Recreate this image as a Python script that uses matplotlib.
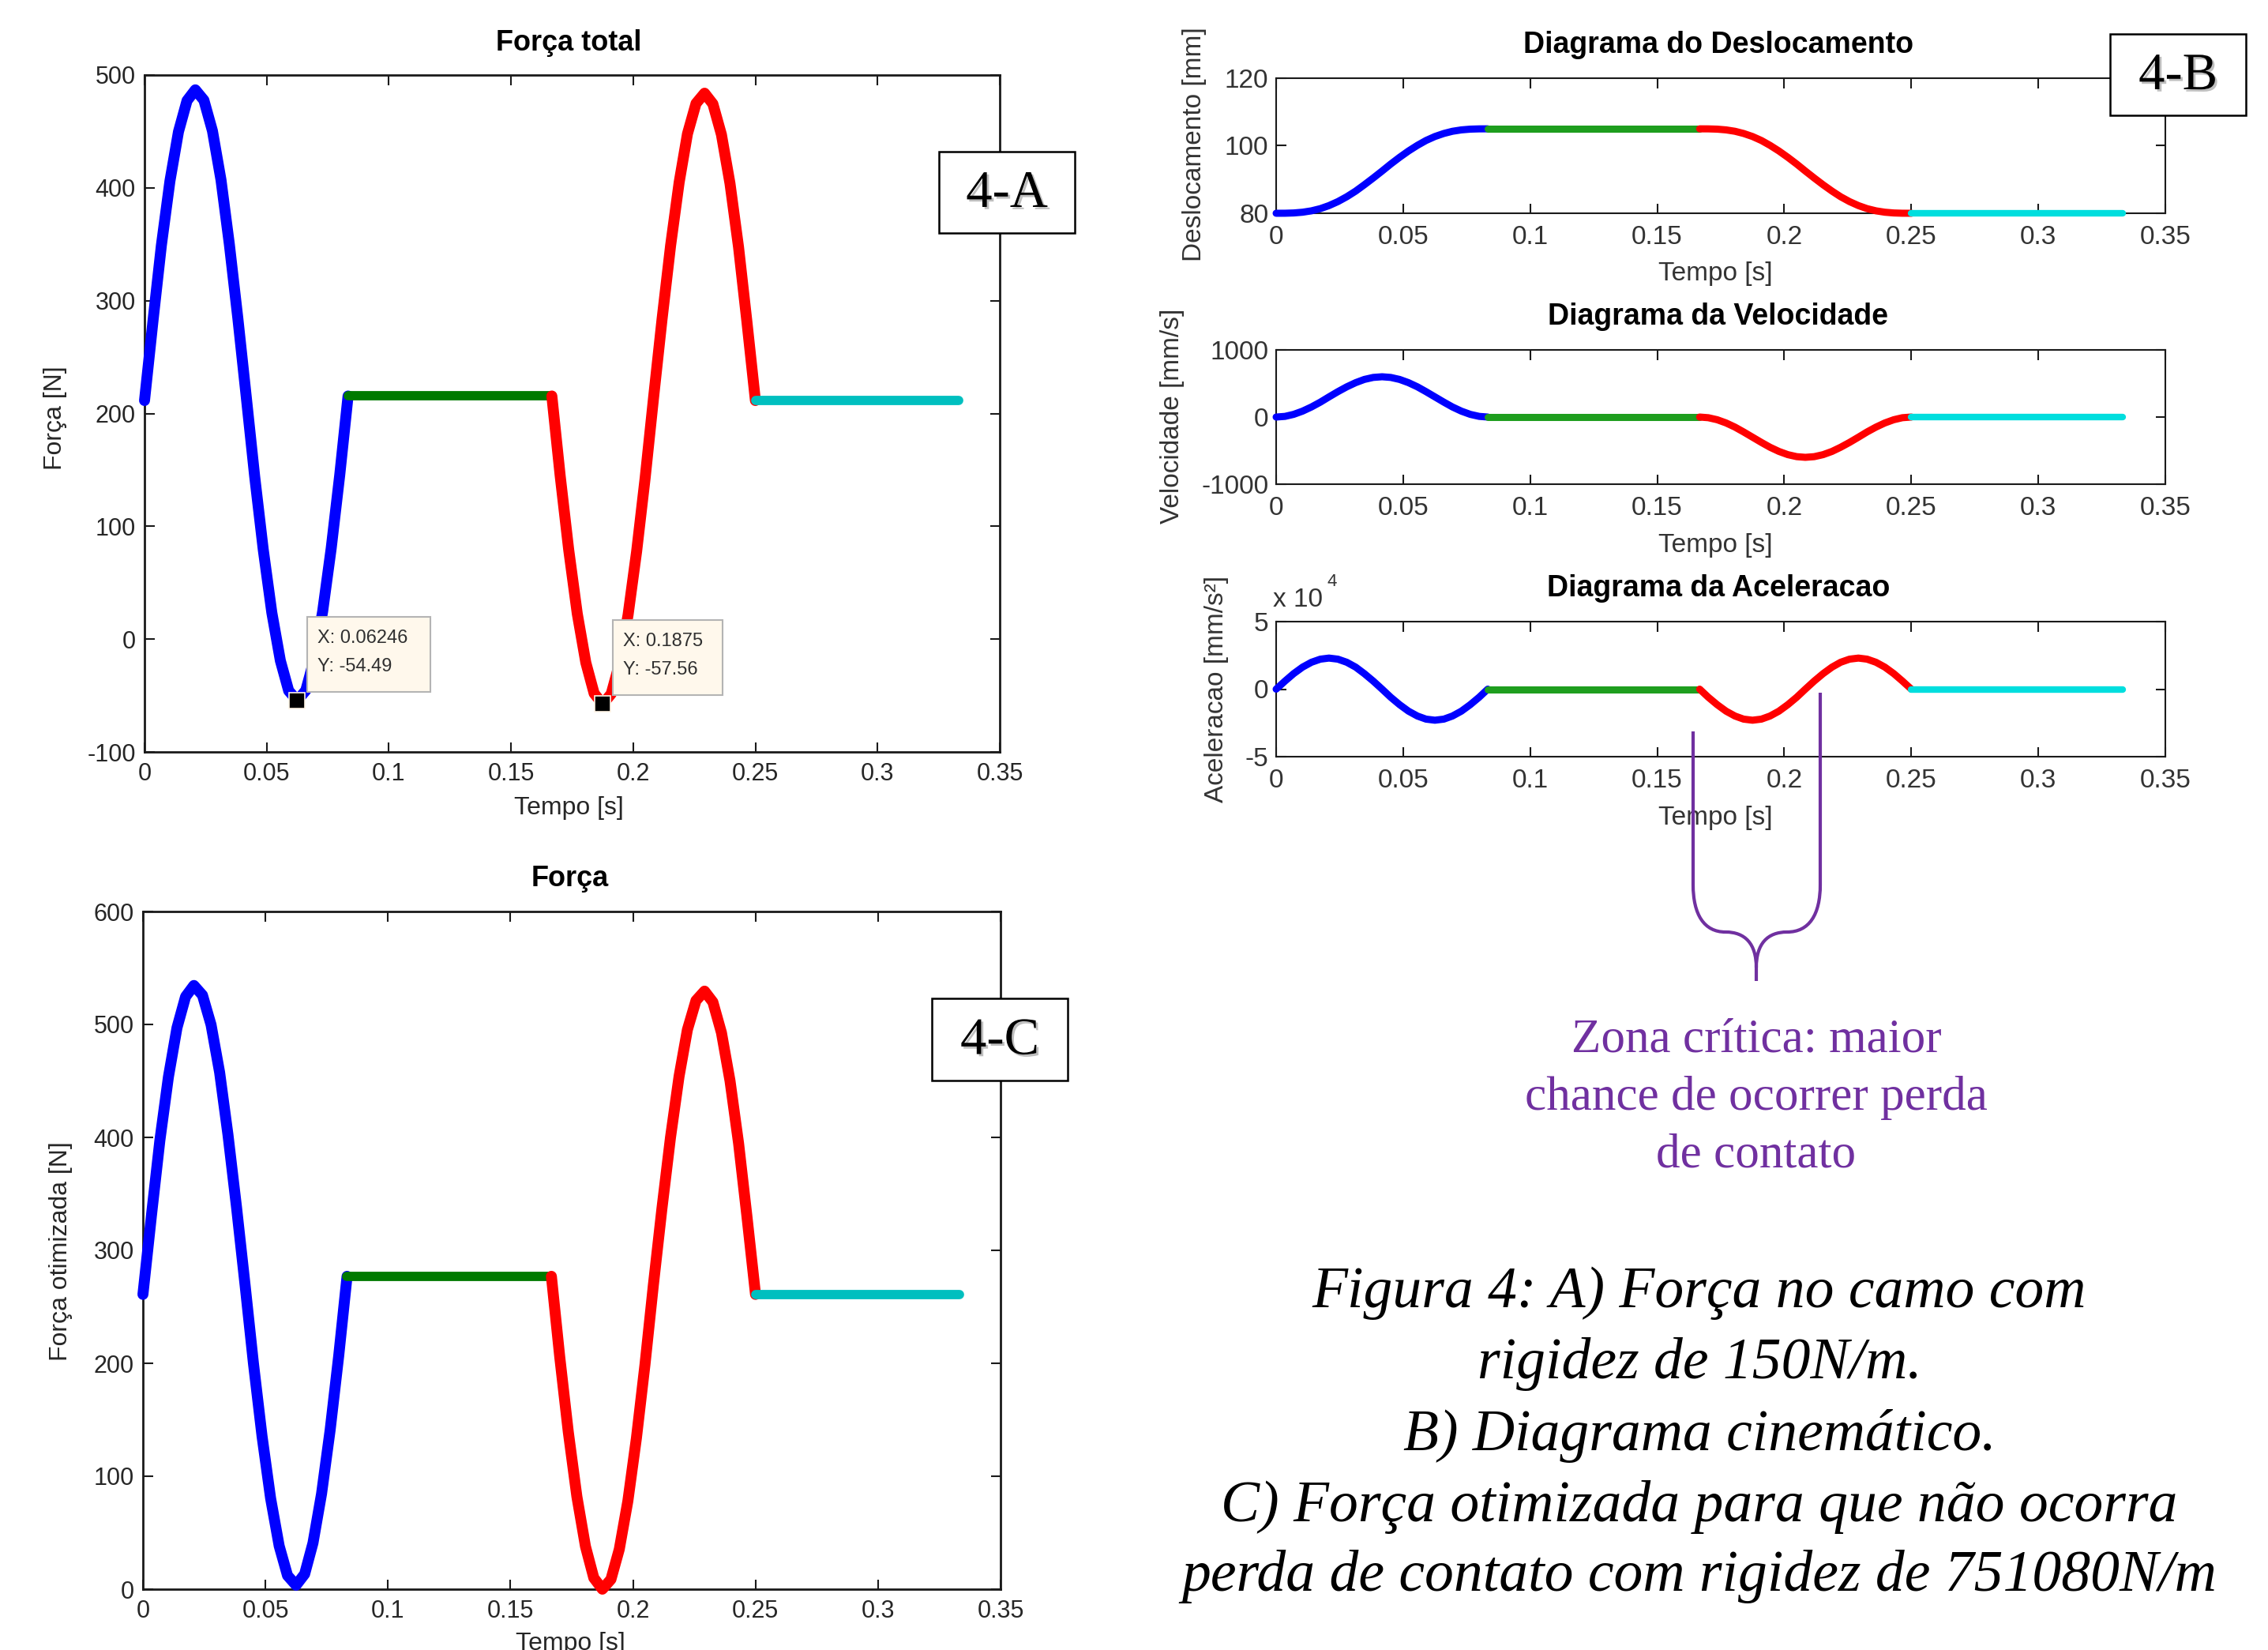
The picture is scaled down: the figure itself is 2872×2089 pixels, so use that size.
import matplotlib
matplotlib.use('Agg')
import matplotlib.pyplot as plt
from matplotlib.patches import Rectangle, PathPatch
from matplotlib.path import Path
from matplotlib.transforms import IdentityTransform
import matplotlib.patheffects as pe

plt.rcParams['font.family'] = ['Liberation Sans', 'DejaVu Sans']
plt.rcParams['axes.unicode_minus'] = False

W, H, DPI = 2872, 2089, 100

# ---------------- data ----------------
t_rise = [0.0000, 0.0035, 0.0069, 0.0104, 0.0139, 0.0174, 0.0208, 0.0243, 0.0278,
          0.0313, 0.0347, 0.0382, 0.0417, 0.0451, 0.0486, 0.0521, 0.0556, 0.0590,
          0.0625, 0.0660, 0.0694, 0.0729, 0.0764, 0.0799, 0.0833]
t_dwell1 = [0.0833, 0.1667]
t_ret = [0.1667, 0.1701, 0.1736, 0.1771, 0.1806, 0.1840, 0.1875, 0.1910, 0.1944,
         0.1979, 0.2014, 0.2049, 0.2083, 0.2118, 0.2153, 0.2188, 0.2222, 0.2257,
         0.2292, 0.2326, 0.2361, 0.2396, 0.2431, 0.2465, 0.2500]
t_dwell2 = [0.2500, 0.3333]

# Displacement [mm]
disp_rise = [80.00, 80.01, 80.09, 80.31, 80.72, 81.37, 82.27, 83.45, 84.89, 86.56,
             88.43, 90.43, 92.50, 94.57, 96.57, 98.44, 100.11, 101.55, 102.73,
             103.63, 104.28, 104.69, 104.91, 104.99, 105.00]
disp_dwell1 = [105.0, 105.0]
disp_ret = [105.00, 104.99, 104.91, 104.69, 104.28, 103.63, 102.73, 101.55, 100.11,
            98.44, 96.57, 94.57, 92.50, 90.43, 88.43, 86.56, 84.89, 83.45, 82.27,
            81.37, 80.72, 80.31, 80.09, 80.01, 80.00]
disp_dwell2 = [80.0, 80.0]

# Velocity [mm/s]
vel_rise = [0, 10, 40, 88, 150, 222, 300, 378, 450, 512, 560, 590, 600, 590, 560,
            512, 450, 378, 300, 222, 150, 88, 40, 10, 0]
vel_dwell1 = [0, 0]
vel_ret = [0, -10, -40, -88, -150, -222, -300, -378, -450, -512, -560, -590, -600,
           -590, -560, -512, -450, -378, -300, -222, -150, -88, -40, -10, 0]
vel_dwell2 = [0, 0]

# Acceleration [x 10^4 mm/s^2]
acc_rise = [0, 0.60, 1.15, 1.63, 1.99, 2.22, 2.30, 2.22, 1.99, 1.63, 1.15, 0.60, 0,
            -0.60, -1.15, -1.63, -1.99, -2.22, -2.30, -2.22, -1.99, -1.63, -1.15, -0.60, 0]
acc_dwell1 = [0, 0]
acc_ret = [0, -0.60, -1.15, -1.63, -1.99, -2.22, -2.30, -2.22, -1.99, -1.63, -1.15,
           -0.60, 0, 0.60, 1.15, 1.63, 1.99, 2.22, 2.30, 2.22, 1.99, 1.63, 1.15, 0.60, 0]
acc_dwell2 = [0, 0]

# Força total [N] (4-A)
fA_rise = [211.5, 282.7, 349.0, 406.0, 449.8, 477.3, 486.9, 477.7, 450.5, 407.0,
           350.3, 284.3, 213.5, 143.9, 79.2, 23.5, -19.1, -45.8, -54.5, -45.5,
           -18.4, 24.5, 80.5, 145.6, 215.5]
fA_dwell1 = [215.5, 215.5]
fA_ret = [215.5, 144.9, 79.1, 22.6, -20.8, -48.1, -57.6, -48.5, -21.5, 21.6, 77.8,
          143.2, 213.5, 283.6, 348.9, 404.9, 447.9, 474.8, 483.9, 474.4, 447.2,
          403.9, 347.5, 281.9, 211.5]
fA_dwell2 = [211.5, 211.5]

# Força otimizada [N] (4-C)
fC_rise = [261.0, 331.4, 397.1, 453.5, 497.1, 524.6, 534.5, 525.9, 499.7, 457.5,
           402.4, 338.1, 269.0, 199.9, 135.6, 80.5, 38.3, 12.1, 3.5, 13.4, 40.9,
           84.5, 140.9, 206.6, 277.0]
fC_dwell1 = [277.0, 277.0]
fC_ret = [277.0, 205.7, 139.1, 82.0, 37.9, 10.0, 0.0, 8.7, 35.3, 78.0, 133.8,
          199.0, 269.0, 336.8, 399.9, 454.0, 495.3, 521.1, 529.5, 519.8, 492.7,
          450.0, 394.6, 330.1, 261.0]
fC_dwell2 = [260.5, 260.5]

# Data tips on 4-A
tip_x = [0.06246, 0.1875]
tip_y = [-54.49, -57.56]
tip_text = ['X: 0.06246\nY: -54.49', 'X: 0.1875\nY: -57.56']

# Ticks
t_ticks = [0, 0.05, 0.1, 0.15, 0.2, 0.25, 0.3, 0.35]
t_ticklabels = ['0', '0.05', '0.1', '0.15', '0.2', '0.25', '0.3', '0.35']
fA_ticks = [-100, 0, 100, 200, 300, 400, 500]
fA_ticklabels = ['-100', '0', '100', '200', '300', '400', '500']
fC_ticks = [0, 100, 200, 300, 400, 500, 600]
fC_ticklabels = ['0', '100', '200', '300', '400', '500', '600']
disp_ticks = [80, 100, 120]
disp_ticklabels = ['80', '100', '120']
vel_ticks = [-1000, 0, 1000]
vel_ticklabels = ['-1000', '0', '1000']
acc_ticks = [-5, 0, 5]
acc_ticklabels = ['-5', '0', '5']

# ---------------- figure ----------------
fig = plt.figure(figsize=(W / DPI, H / DPI), dpi=DPI)
fig.patch.set_facecolor('white')


def rect(l, t, r, b):
    return [l / W, 1 - b / H, (r - l) / W, (b - t) / H]


def fxy(x, y):
    return x / W, 1 - y / H


def style(ax, yt, ytl, ylim, fs, slw, padx, pady, col):
    ax.set_xlim(0, 0.35)
    ax.set_ylim(*ylim)
    ax.set_xticks(t_ticks)
    ax.set_xticklabels(t_ticklabels)
    ax.set_yticks(yt)
    ax.set_yticklabels(ytl)
    ax.tick_params(axis='both', direction='in', top=True, right=True,
                   length=9, width=1.5, labelsize=fs, labelcolor=col, color='#1a1a1a')
    ax.tick_params(axis='x', pad=padx)
    ax.tick_params(axis='y', pad=pady)
    for s in ax.spines.values():
        s.set_linewidth(slw)
        s.set_color('#1a1a1a')


def plot_segments(ax, ys, colors, lws):
    ts = [t_rise, t_dwell1, t_ret, t_dwell2]
    for t, y, c, lw in zip(ts, ys, colors, lws):
        ax.plot(t, y, color=c, lw=lw, solid_capstyle='round',
                solid_joinstyle='round', clip_on=False, zorder=3)


colsAC = ['#0000FF', '#007A00', '#FF0000', '#00BFBF']
colsB = ['#0000FF', '#1E9E1E', '#FF0000', '#00DEDE']
lwAC = [10, 8.5, 10, 8.5]
lwB = [6.5, 6.5, 6.5, 6]

# ---- 4-A ----
axA = fig.add_axes(rect(183, 95, 1266, 952))
style(axA, fA_ticks, fA_ticklabels, (-100, 500), 22, 2.0, 9, 8, '#262626')
plot_segments(axA, [fA_rise, fA_dwell1, fA_ret, fA_dwell2], colsAC, lwAC)
axA.plot(tip_x, tip_y, 's', color='k', markersize=14, markeredgecolor='#FFF5E6',
         markeredgewidth=1.2, zorder=6, clip_on=False)

# ---- 4-C ----
axC = fig.add_axes(rect(181, 1154, 1267, 2012))
style(axC, fC_ticks, fC_ticklabels, (0, 600), 22, 2.0, 9, 8, '#262626')
plot_segments(axC, [fC_rise, fC_dwell1, fC_ret, fC_dwell2], colsAC, lwAC)

# ---- 4-B ----
axD = fig.add_axes(rect(1616, 99, 2742, 270))
style(axD, disp_ticks, disp_ticklabels, (80, 120), 24, 1.5, 11, 7, '#333333')
plot_segments(axD, [disp_rise, disp_dwell1, disp_ret, disp_dwell2], colsB, lwB)

axV = fig.add_axes(rect(1616, 443, 2742, 613))
style(axV, vel_ticks, vel_ticklabels, (-1000, 1000), 24, 1.5, 11, 7, '#333333')
plot_segments(axV, [vel_rise, vel_dwell1, vel_ret, vel_dwell2], colsB, lwB)

axAc = fig.add_axes(rect(1616, 787, 2742, 958))
style(axAc, acc_ticks, acc_ticklabels, (-5, 5), 24, 1.5, 11, 7, '#333333')
plot_segments(axAc, [acc_rise, acc_dwell1, acc_ret, acc_dwell2], colsB, lwB)

# ---------------- texts ----------------
def ftext(x, y, s, **kw):
    fig.text(*fxy(x, y), s, **kw)


# 4-A
ftext(720, 55, 'Força total', fontsize=26, fontweight='bold', ha='center', va='center')
ftext(720, 1023, 'Tempo [s]', fontsize=23, ha='center', va='center', color='#262626')
ftext(70, 529, 'Força [N]', fontsize=23, rotation=90, ha='center', va='center', color='#262626')
# 4-C
ftext(722, 1112, 'Força', fontsize=26, fontweight='bold', ha='center', va='center')
ftext(722, 2066, 'Tempo [s]', fontsize=23, ha='center', va='top', color='#262626')
ftext(77, 1584, 'Força otimizada [N]', fontsize=23, rotation=90, ha='center', va='center', color='#262626')
# 4-B
ftext(2176, 57, 'Diagrama do Deslocamento', fontsize=27, fontweight='bold', ha='center', va='center')
ftext(2176, 401, 'Diagrama da Velocidade', fontsize=27, fontweight='bold', ha='center', va='center')
ftext(2176, 745, 'Diagrama da Aceleracao', fontsize=27, fontweight='bold', ha='center', va='center')
for yy in (346, 690, 1035):
    ftext(2172, yy, 'Tempo [s]', fontsize=24, ha='center', va='center', color='#333333')
ftext(1513, 183, 'Deslocamento [mm]', fontsize=24, rotation=90, ha='center', va='center', color='#333333')
ftext(1484, 527, 'Velocidade [mm/s]', fontsize=24, rotation=90, ha='center', va='center', color='#333333')
ftext(1540, 872, 'Aceleracao [mm/s²]', fontsize=24, rotation=90, ha='center', va='center', color='#333333')
ftext(1612, 760, 'x 10', fontsize=24, ha='left', va='center', color='#333333')
ftext(1680, 736, '4', fontsize=16, ha='left', va='center', color='#333333')

# Label boxes
shadow = [pe.withSimplePatchShadow(offset=(2, -2), shadow_rgbFace='#808080', alpha=0.5)]
for (l, t, r, b, s) in [(1189, 192, 1361, 295, '4-A'),
                        (2672, 43, 2844, 146, '4-B'),
                        (1180, 1264, 1352, 1368, '4-C')]:
    fig.add_artist(Rectangle((l, H - b), r - l, b - t, transform=IdentityTransform(),
                             facecolor='white', edgecolor='black', lw=1.8, zorder=8))
    ftext((l + r) / 2, (t + b) / 2 + 2, s, fontsize=48, family='Liberation Serif',
          ha='center', va='center', zorder=9, path_effects=shadow)

# Data tip boxes
fig.canvas.draw()
box_w = [156, 139]
for x, y, s, bw in zip(tip_x, tip_y, tip_text, box_w):
    px, py = axA.transData.transform((x, y))
    fig.add_artist(Rectangle((px + 13, py + 11), bw, 95, transform=IdentityTransform(),
                             facecolor='#FFF8EC', edgecolor='#B4B4B4', lw=1.5, zorder=7))
    lines = s.split('\n')
    fig.text(px + 26, py + 79, lines[0], transform=IdentityTransform(), fontsize=17,
             ha='left', va='center', color='#303030', zorder=8)
    fig.text(px + 26, py + 43, lines[1], transform=IdentityTransform(), fontsize=17,
             ha='left', va='center', color='#303030', zorder=8)

# Brace
purple = '#7030A0'
def P(x, y):
    return (x, H - y)
verts = [P(2144, 926), P(2144, 1120),
         P(2144, 1158), P(2158, 1180), P(2185, 1180),
         P(2210, 1180), P(2224, 1195), P(2224, 1225),
         P(2224, 1242),
         P(2305, 877), P(2305, 1120),
         P(2305, 1158), P(2291, 1180), P(2263, 1180),
         P(2238, 1180), P(2224, 1195), P(2224, 1225)]
codes = [Path.MOVETO, Path.LINETO,
         Path.CURVE4, Path.CURVE4, Path.CURVE4,
         Path.CURVE4, Path.CURVE4, Path.CURVE4,
         Path.LINETO,
         Path.MOVETO, Path.LINETO,
         Path.CURVE4, Path.CURVE4, Path.CURVE4,
         Path.CURVE4, Path.CURVE4, Path.CURVE4]
fig.add_artist(PathPatch(Path(verts, codes), fill=False, edgecolor=purple, lw=3,
                         transform=IdentityTransform(), zorder=10))

for yy, s in zip((1317, 1390, 1463), ('Zona crítica: maior', 'chance de ocorrer perda', 'de contato')):
    ftext(2224, yy, s, fontsize=44, family='Liberation Serif', color=purple,
          ha='center', va='center')

caption = ['Figura 4: A) Força no camo com', 'rigidez de 150N/m.', 'B) Diagrama cinemático.',
           'C) Força otimizada para que não ocorra', 'perda de contato com rigidez de 751080N/m']
for yy, s in zip((1637, 1727, 1818, 1908, 1996), caption):
    ftext(2152, yy, s, fontsize=53, family='Liberation Serif', style='italic',
          ha='center', va='center', color='black')

fig.savefig('out.png', dpi=DPI, facecolor='white')
